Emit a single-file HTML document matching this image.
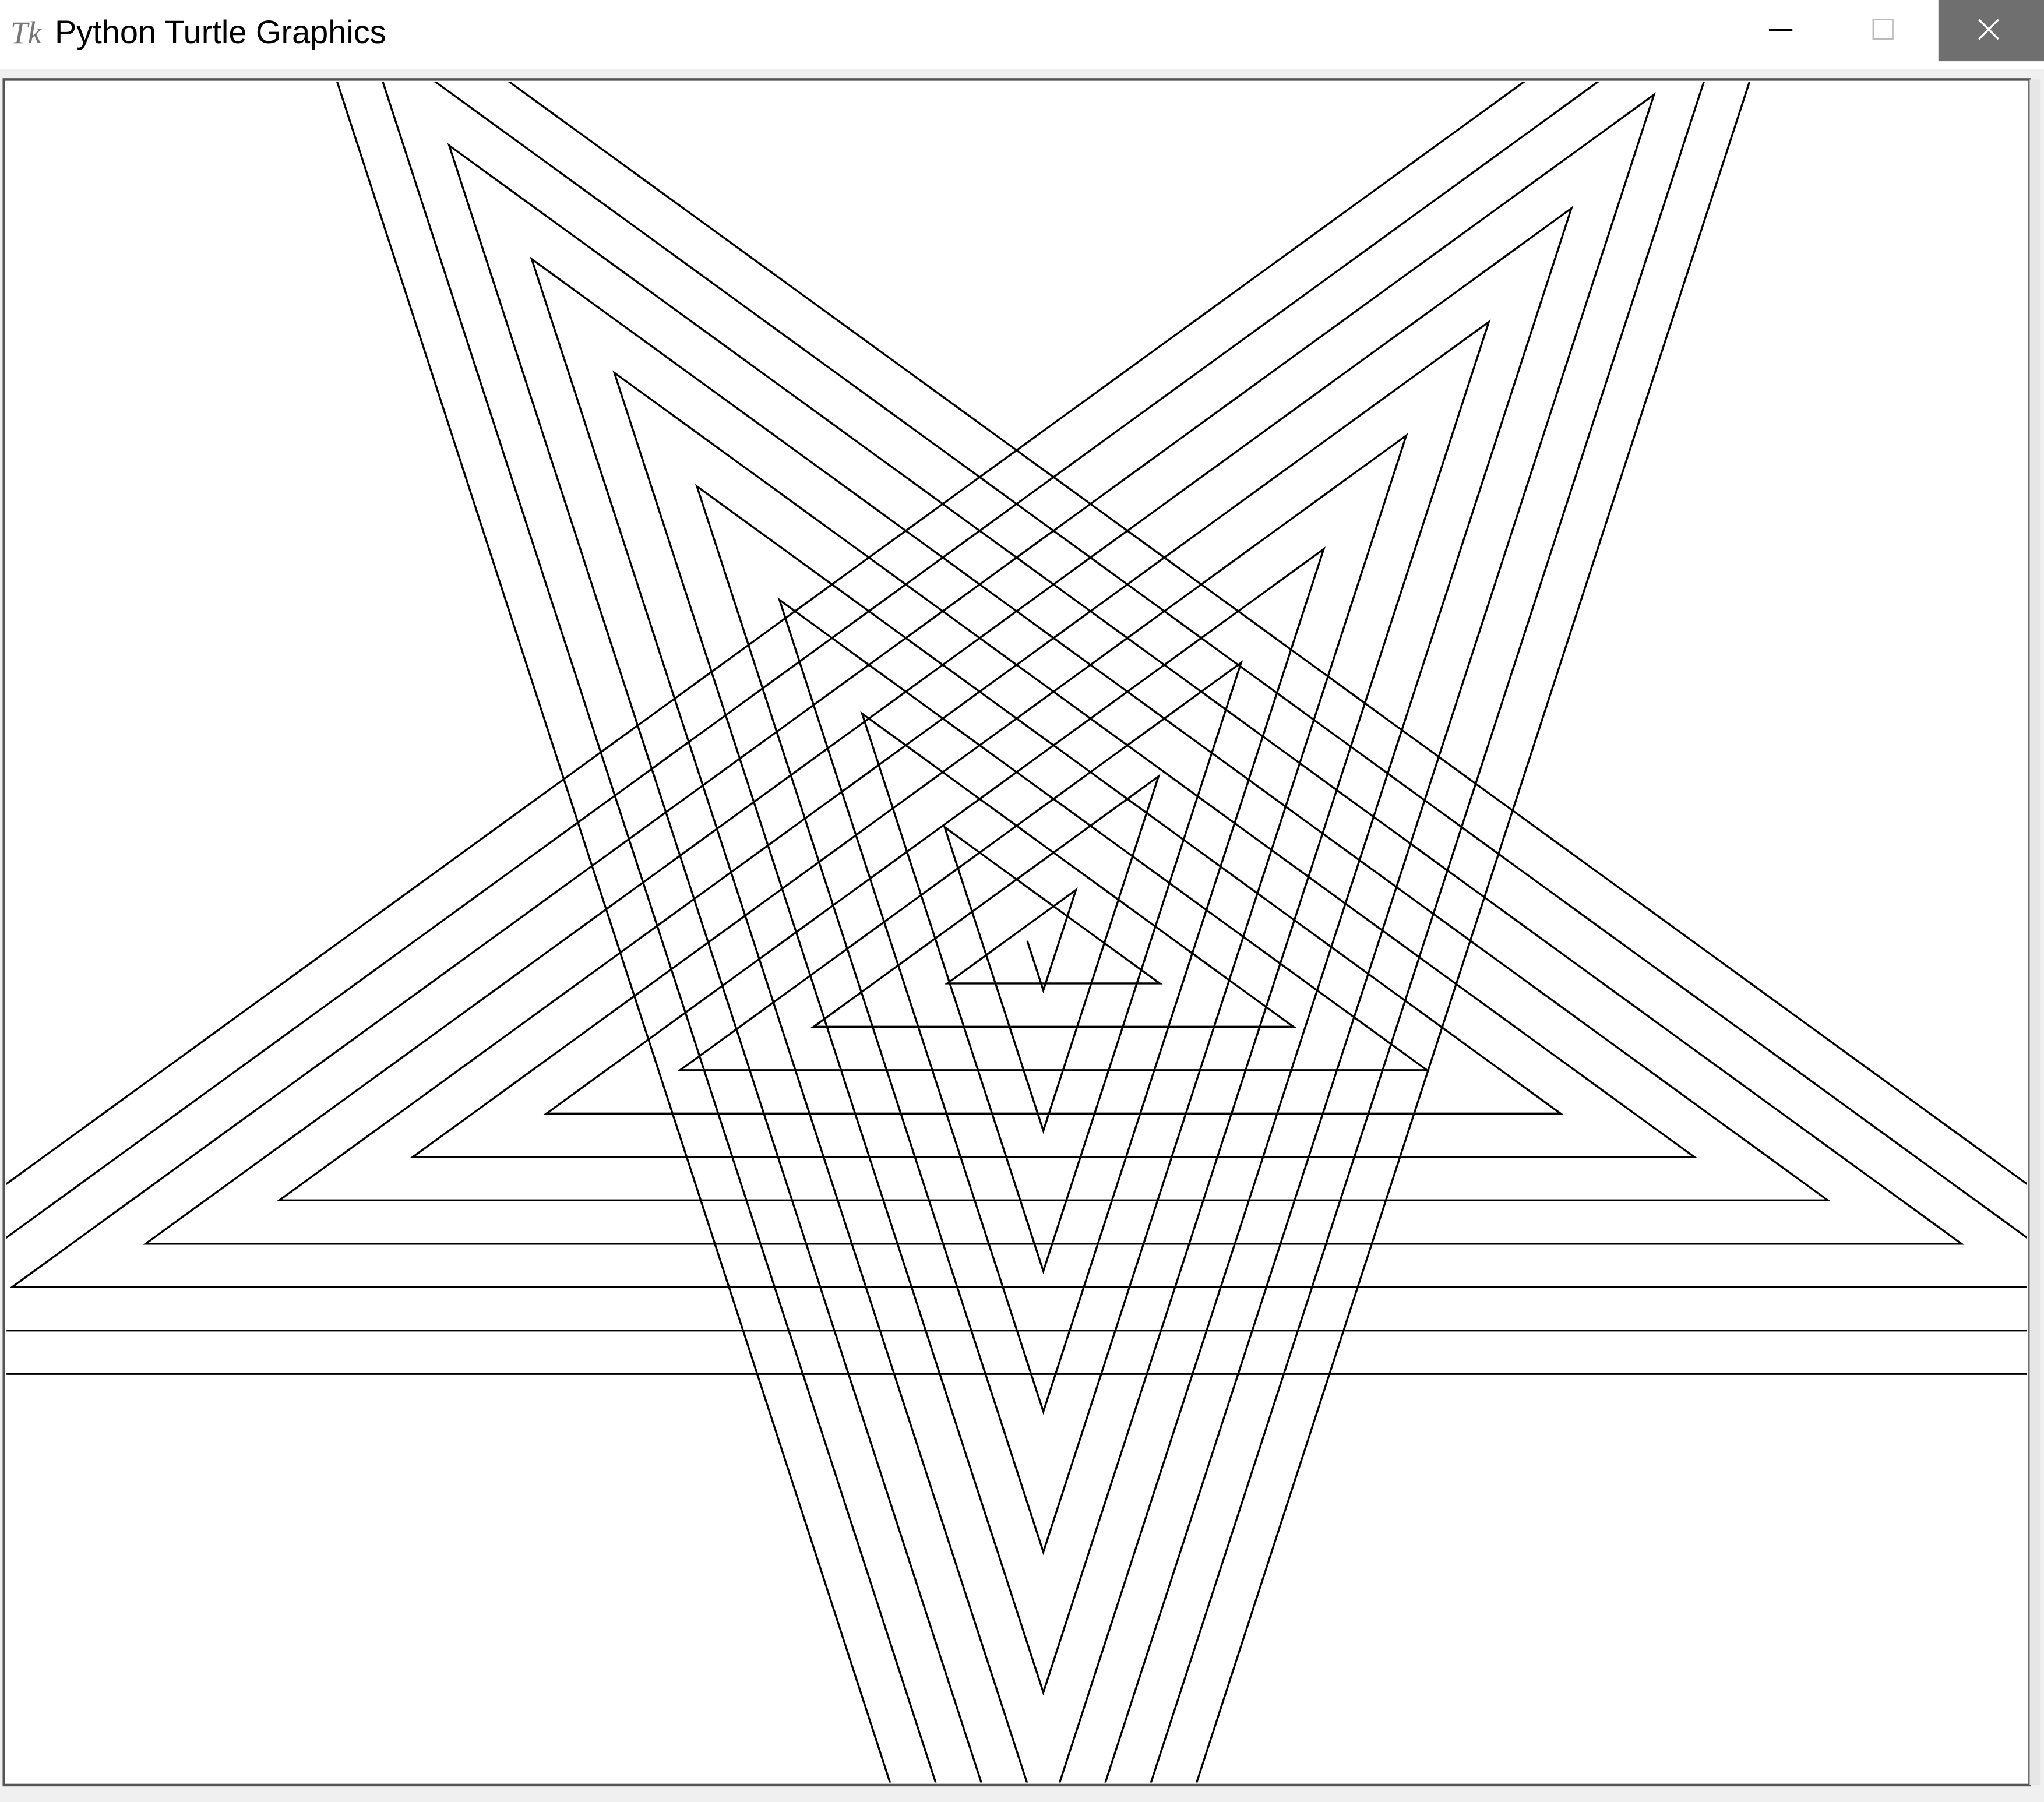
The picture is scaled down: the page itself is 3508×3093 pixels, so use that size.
<!DOCTYPE html>
<html><head><meta charset="utf-8">
<style>
html,body{margin:0;padding:0;background:#fff;overflow:hidden;width:3508px;height:3093px;}
svg{display:block;}
</style></head>
<body>
<svg id="win" width="3508" height="3093" viewBox="0 0 1568 1383" preserveAspectRatio="none" xmlns="http://www.w3.org/2000/svg">
  <rect x="0" y="0" width="1568" height="1383" fill="#ffffff"/>
  <g>
    <rect x="0" y="0" width="1568" height="48" fill="#ffffff"/>
    <text x="8" y="33" font-family="Liberation Serif, serif" font-style="italic" font-size="24" fill="#777">Tk</text>
    <text x="42" y="33" font-family="Liberation Sans, sans-serif" font-size="25" fill="#000">Python Turtle Graphics</text>
    <line x1="1357" y1="23" x2="1375" y2="23" stroke="#000" stroke-width="1.5"/>
    <rect x="1437" y="15" width="15" height="15" fill="none" stroke="#bbb" stroke-width="1.2"/>
    <rect x="1487" y="0" width="81" height="47" fill="#6f6f6f"/>
    <path d="M1518 15 L1533 30 M1533 15 L1518 30" stroke="#fff" stroke-width="1.6"/>
  </g>
  <rect x="0" y="53" width="1568" height="1330" fill="#f0f0f0"/>
  <rect x="3" y="61" width="1554" height="1309" fill="#ffffff" stroke="#555" stroke-width="2"/>
  <rect x="1557" y="61" width="8" height="1309" fill="#e6e6e6"/>
  <defs><clipPath id="cp"><rect x="5" y="63" width="1550" height="1305"/></clipPath></defs>
  <g id="drawing" clip-path="url(#cp)"></g>
</svg>
<script>
const startPoint = [788, 722];
const startHeading = -72;
const turnAngle = 144;
const segmentLengths = [40,81,122,163,204,245,286,327,368,409,450,491,532,573,614,655,696,737,778,819,860,901,942,983,1024,1065,1106,1147,1188,1229,1270,1311,1352,1393,1434,1475,1516,1557,1598,1639,1680,1721,1762,1803,1844,1885,1926,1967,2008];

const g = document.getElementById('drawing');
let x = startPoint[0], y = startPoint[1], h = startHeading;
let d = 'M' + x.toFixed(2) + ' ' + y.toFixed(2);
for (const L of segmentLengths) {
  const r = h * Math.PI / 180;
  x += L * Math.cos(r);
  y -= L * Math.sin(r);
  d += ' L' + x.toFixed(2) + ' ' + y.toFixed(2);
  h += turnAngle;
}
const p = document.createElementNS('http://www.w3.org/2000/svg', 'path');
p.setAttribute('d', d);
p.setAttribute('fill', 'none');
p.setAttribute('stroke', '#000');
p.setAttribute('stroke-width', '1.5');


g.appendChild(p);
</script>
</body></html>
